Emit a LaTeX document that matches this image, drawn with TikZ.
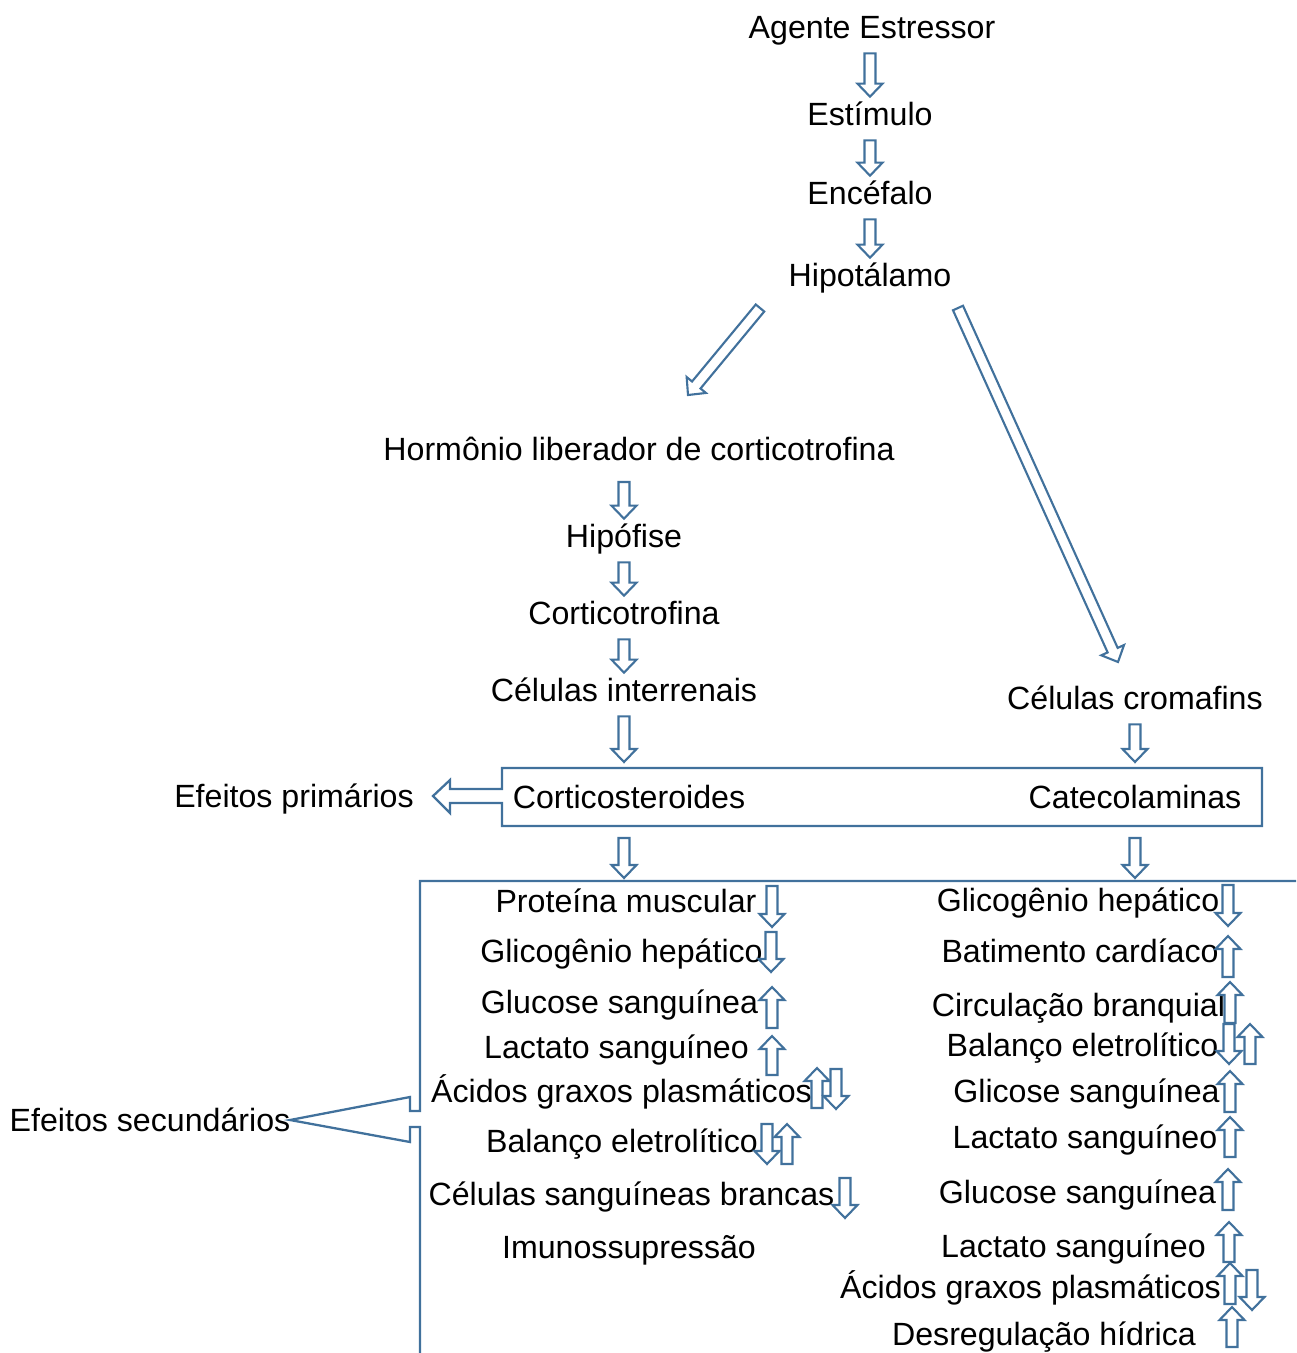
\documentclass[tikz,border=0pt]{standalone}
\usepackage{fontspec}
\setmainfont{Liberation Sans}
\usetikzlibrary{calc}
\definecolor{arrblue}{RGB}{65,113,156}
\tikzset{
  lbl/.style={inner sep=0pt, anchor=base, text height=0.56cm, text depth=0.3cm,
    font=\fontsize{18.3}{22}\selectfont},
  blockarr/.style={draw=arrblue, line width=1.2pt, fill=white, line join=miter},
  frame/.style={draw=arrblue, line width=1.3pt, line join=miter}
}
% block arrow from #1 to #2
\newcommand\barrow[2]{%
  \coordinate (bh) at ($(#2)!0.26cm!(#1)$);
  \draw[blockarr] ($(#1)!0.11cm!90:(#2)$) -- ($(bh)!0.11cm!-90:(#1)$) -- ($(bh)!0.25cm!-90:(#1)$)
    -- (#2) -- ($(bh)!0.25cm!90:(#1)$) -- ($(bh)!0.11cm!90:(#1)$) -- ($(#1)!0.11cm!-90:(#2)$) -- cycle;}
% small up / down arrows: x, top, bottom
\newcommand\uparr[3]{\coordinate (ut) at (#1,#3); \coordinate (uh) at (#1,#2); \barrow{ut}{uh}}
\newcommand\dnarr[3]{\coordinate (dt) at (#1,#2); \coordinate (dh) at (#1,#3); \barrow{dt}{dh}}

\begin{document}
\begin{tikzpicture}[x=0.02cm, y=-0.02cm]
  \useasboundingbox (0,0) rectangle (1296,1353);

  %%%%% chain %%%%%
  \node[lbl] (agente) at (872,38) {Agente Estressor};
  \node[lbl] (estim) at (870,125) {Estímulo};
  \node[lbl] (encef) at (870,204) {Encéfalo};
  \node[lbl] (hipot) at (870,286) {Hipotálamo};
  \barrow{agente.south -| estim}{estim.north}
  \barrow{estim.south}{encef.north}
  \barrow{encef.south}{hipot.north}

  \coordinate (dl1) at (760,308);
  \coordinate (dl2) at (688,395);
  \coordinate (dr1) at (958,308);
  \coordinate (dr2) at (1118,662);
  \barrow{dl1}{dl2}
  \barrow{dr1}{dr2}

  \node[lbl] (horm) at (639,460) {Hormônio liberador de corticotrofina};
  \node[lbl] (hipof) at (624,547) {Hipófise};
  \node[lbl] (cortico) at (624,624) {Corticotrofina};
  \node[lbl] (celint) at (624,701) {Células interrenais};
  \node[lbl] (celcrom) at (1135,709) {Células cromafins};
  \coordinate (h1) at (624,482);
  \barrow{h1}{hipof.north}
  \barrow{hipof.south}{cortico.north}
  \barrow{cortico.south}{celint.north}

  %%%%% hormone box %%%%%
  \draw[frame] (502,789) |- (1262,768) |- (502,826) -- (502,803) -- (450,803) -- (450,813)
    -- (433,796) -- (450,780) -- (450,789) -- cycle;
  \node[lbl] (cstero) at (629,808) {Corticosteroides};
  \node[lbl] (catec) at (1135,808) {Catecolaminas};
  \node[lbl] (efprim) at (294,807) {Efeitos primários};

  \coordinate (ci) at (624,762);
  \coordinate (cc) at (1135,762);
  \barrow{celint.south}{ci}
  \barrow{celcrom.south}{cc}
  \coordinate (ls1) at (624,838);
  \coordinate (ls2) at (624,878);
  \coordinate (lr1) at (1135,838);
  \coordinate (lr2) at (1135,878);
  \barrow{ls1}{ls2}
  \barrow{lr1}{lr2}

  %%%%% secondary effects %%%%%
  \node[lbl] (efsec) at (150,1131) {Efeitos secundários};
  \coordinate (tip) at (290,1120);
  \draw[frame] (1296,881) -| (420,1111) -- (410,1111) -- (410,1097) -- (tip) -- (410,1142)
    -- (410,1127) -- (420,1127) -- (420,1353);

  % left column
  \node[lbl] (l1) at (626,912) {Proteína muscular};
  \node[lbl] (l2) at (621.5,962) {Glicogênio hepático};
  \node[lbl] (l3) at (619.5,1013) {Glucose sanguínea};
  \node[lbl] (l4) at (616.5,1058) {Lactato sanguíneo};
  \node[lbl] (l5) at (621.5,1102) {Ácidos graxos plasmáticos};
  \node[lbl] (l6) at (622,1152) {Balanço eletrolítico};
  \node[lbl] (l7) at (631.5,1205) {Células sanguíneas brancas};
  \node[lbl] (l8) at (629,1258) {Imunossupressão};
  \dnarr{772}{886}{927}
  \dnarr{771}{932}{972}
  \uparr{772}{987}{1028}
  \uparr{772}{1036}{1075}
  \uparr{817}{1068}{1108}
  \dnarr{836}{1069}{1109}
  \dnarr{767}{1124}{1164}
  \uparr{787}{1124}{1164}
  \dnarr{845}{1178}{1218}

  % right column
  \node[lbl] (r1) at (1078,911) {Glicogênio hepático};
  \node[lbl] (r2) at (1080,962) {Batimento cardíaco};
  \node[lbl] (r3) at (1078.5,1016) {Circulação branquial};
  \node[lbl] (r4) at (1082.5,1056) {Balanço eletrolítico};
  \node[lbl] (r5) at (1086.5,1102) {Glicose sanguínea};
  \node[lbl] (r6) at (1085,1148) {Lactato sanguíneo};
  \node[lbl] (r7) at (1077.5,1203) {Glucose sanguínea};
  \node[lbl] (r8) at (1073.5,1257) {Lactato sanguíneo};
  \node[lbl] (r9) at (1030.5,1298) {Ácidos graxos plasmáticos};
  \node[lbl] (r10) at (1044,1345) {Desregulação hídrica};
  \dnarr{1228}{885}{926}
  \uparr{1228}{936}{977}
  \uparr{1230}{982}{1023}
  \dnarr{1229}{1024}{1064}
  \uparr{1250}{1024}{1064}
  \uparr{1230}{1071}{1112}
  \uparr{1230}{1117}{1157}
  \uparr{1228}{1169}{1210}
  \uparr{1229}{1222}{1262}
  \uparr{1230}{1263}{1304}
  \dnarr{1252}{1270}{1310}
  \uparr{1232}{1307}{1347}
\end{tikzpicture}
\end{document}
